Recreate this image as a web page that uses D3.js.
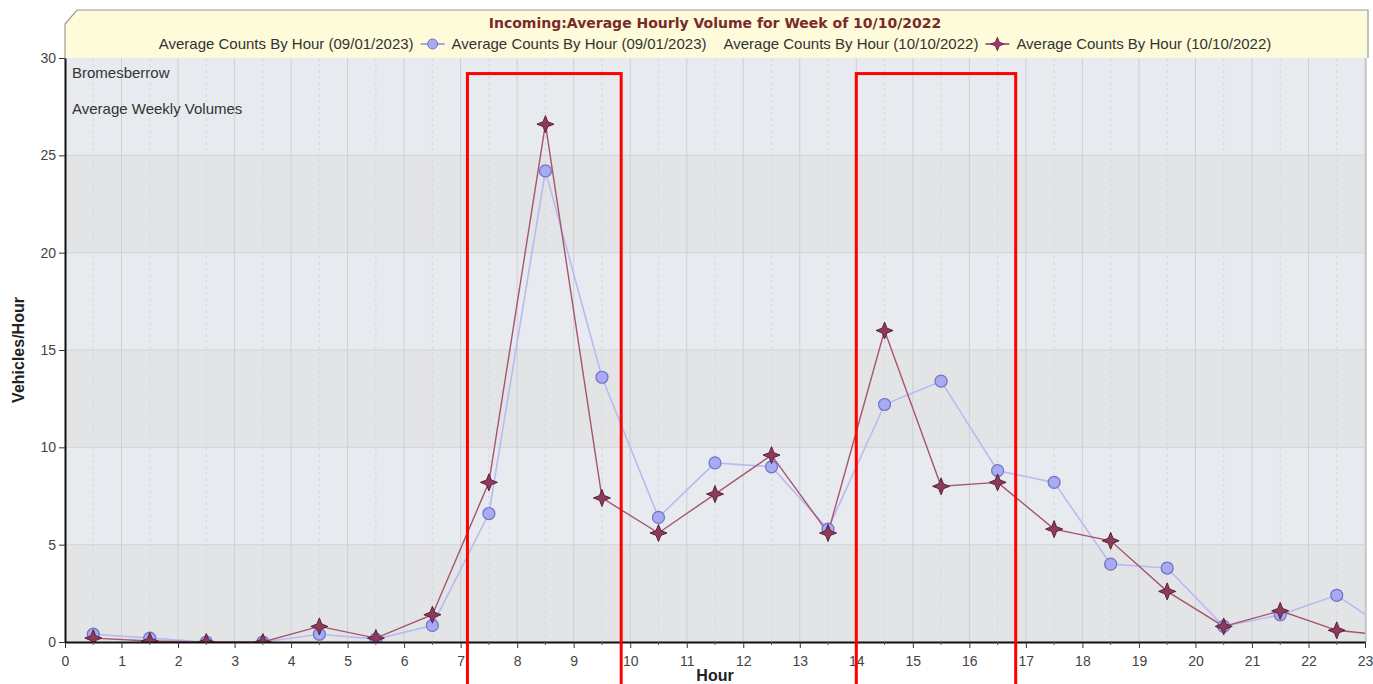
<!DOCTYPE html>
<html>
<head>
<meta charset="utf-8">
<script src="https://cdn.jsdelivr.net/npm/d3@7"></script>
<style>
  body { margin: 0; background: #fff; }
  text { font-family: "Liberation Sans", Arial, sans-serif; }
</style>
</head>
<body>
<svg id="chart" width="1373" height="684"></svg>
<script>
(function () {

    // hours (bin centres) - last point lies past the axis and gets clipped
    const hours = [0.5, 1.5, 2.5, 3.5, 4.5, 5.5, 6.5, 7.5, 8.5, 9.5, 10.5, 11.5,
                   12.5, 13.5, 14.5, 15.5, 16.5, 17.5, 18.5, 19.5, 20.5, 21.5, 22.5, 23.5];

    const counts2023 = [0.4, 0.2, 0.0, 0.0, 0.4, 0.15, 0.85, 6.6, 24.2, 13.6, 6.4, 9.2,
                        9.0, 5.8, 12.2, 13.4, 8.8, 8.2, 4.0, 3.8, 0.8, 1.4, 2.4, 0.45];

    const counts2022 = [0.2, 0.05, 0.0, 0.0, 0.8, 0.2, 1.4, 8.2, 26.6, 7.4, 5.6, 7.6,
                        9.6, 5.6, 16.0, 8.0, 8.2, 5.8, 5.2, 2.6, 0.8, 1.6, 0.6, 0.3];

    const xTicks = d3.range(0, 24);          // 0..23
    const yTicks = [0, 5, 10, 15, 20, 25, 30];

    // red highlight boxes (hour ranges)
    const boxStart = [7.12, 14.0];
    const boxEnd = [9.84, 16.82];
    const boxTop = 29.2;

    const title = "Incoming:Average Hourly Volume for Week of 10/10/2022";
    const label2023 = "Average Counts By Hour (09/01/2023)";
    const label2022 = "Average Counts By Hour (10/10/2022)";

    const svg = d3.select('#chart');

    const left = 65, right = 1365, top = 58, bottom = 642;

    const x = d3.scaleLinear().domain([0, 23]).range([left, right]);
    const y = d3.scaleLinear().domain([0, 30]).range([bottom, top]);

    // background bands, alternating every 5
    const bands = d3.range(0, 30, 5);
    svg.append('g').selectAll('rect')
        .data(bands)
        .enter()
        .append('rect')
        .attr('x', left)
        .attr('width', right - left)
        .attr('y', d => y(d + 5))
        .attr('height', d => y(d) - y(d + 5))
        .attr('fill', d => (d / 5) % 2 === 0 ? '#e3e4e6' : '#e7eaee');

    // grid lines
    const grid = svg.append('g');
    grid.selectAll('line.minor')
        .data(d3.range(0.5, 23, 1))
        .enter()
        .append('line')
        .attr('x1', d => x(d)).attr('x2', d => x(d))
        .attr('y1', top).attr('y2', bottom)
        .attr('stroke', '#d6d8dc')
        .attr('stroke-dasharray', '3,3');
    grid.selectAll('line.major')
        .data(xTicks.slice(1))
        .enter()
        .append('line')
        .attr('x1', d => x(d)).attr('x2', d => x(d))
        .attr('y1', top).attr('y2', bottom)
        .attr('stroke', '#cdcfd3');
    grid.selectAll('line.hz')
        .data(yTicks.slice(1, -1))
        .enter()
        .append('line')
        .attr('x1', left).attr('x2', right)
        .attr('y1', d => y(d)).attr('y2', d => y(d))
        .attr('stroke', '#d2d3d6');

    // right frame
    svg.append('line')
        .attr('x1', right + 1).attr('x2', right + 1)
        .attr('y1', top).attr('y2', bottom)
        .attr('stroke', '#a8a8a8');

    svg.append('clipPath').attr('id', 'plotclip')
        .append('rect')
        .attr('x', left).attr('y', top)
        .attr('width', right - left).attr('height', bottom - top);

    const plot = svg.append('g').attr('clip-path', 'url(#plotclip)');

    const line = d3.line()
        .x((d, i) => x(hours[i]))
        .y(d => y(d));

    plot.append('path')
        .datum(counts2023)
        .attr('d', line)
        .attr('fill', 'none')
        .attr('stroke', '#b9bbf0')
        .attr('stroke-width', 1.6);

    plot.append('path')
        .datum(counts2022)
        .attr('d', line)
        .attr('fill', 'none')
        .attr('stroke', '#a5556f')
        .attr('stroke-width', 1.4);

    function starPath() {
        const r = 8.5, k = 2.4;
        return `M0,${-r}L${k},${-k}L${r},0L${k},${k}L0,${r}L${-k},${k}L${-r},0L${-k},${-k}Z`;
    }

    plot.selectAll('circle.c2023')
        .data(counts2023)
        .enter()
        .append('circle')
        .attr('cx', (d, i) => x(hours[i]))
        .attr('cy', d => y(d))
        .attr('r', 6)
        .attr('fill', '#a8aaf2')
        .attr('stroke', '#6f72c8')
        .attr('stroke-width', 1.2);

    plot.selectAll('path.s2022')
        .data(counts2022)
        .enter()
        .append('path')
        .attr('d', starPath())
        .attr('transform', (d, i) => `translate(${x(hours[i])},${y(d)})`)
        .attr('fill', '#8e3a5c')
        .attr('stroke', '#5c2038')
        .attr('stroke-width', 1);

    // axes
    const xAxis = svg.append('g')
        .attr('transform', `translate(0,${bottom})`)
        .call(d3.axisBottom(x).tickValues(xTicks).tickFormat(d3.format('d')).tickSize(6).tickSizeOuter(0));
    svg.append('g')
        .attr('transform', `translate(0,${bottom})`)
        .selectAll('line')
        .data(d3.range(0.5, 23, 1))
        .enter()
        .append('line')
        .attr('x1', d => x(d)).attr('x2', d => x(d))
        .attr('y1', 0).attr('y2', 3)
        .attr('stroke', '#555');
    const yAxis = svg.append('g')
        .attr('transform', `translate(${left},0)`)
        .call(d3.axisLeft(y).tickValues(yTicks).tickSize(6).tickSizeOuter(0));

    [xAxis, yAxis].forEach(g => {
        g.select('.domain').attr('stroke', '#111').attr('stroke-width', 2);
        g.selectAll('.tick line').attr('stroke', '#333');
        g.selectAll('.tick text')
            .attr('fill', '#444')
            .style('font-size', '14px')
            .style('font-family', '"Liberation Sans", Arial, sans-serif');
    });
    xAxis.selectAll('.tick text').attr('dy', '1.05em');

    svg.append('text')
        .attr('x', 715).attr('y', 681)
        .attr('text-anchor', 'middle')
        .style('font-weight', 'bold')
        .style('font-size', '16px')
        .attr('fill', '#222')
        .text('Hour');

    svg.append('text')
        .attr('transform', 'translate(24,350) rotate(-90)')
        .attr('text-anchor', 'middle')
        .style('font-weight', 'bold')
        .style('font-size', '16px')
        .attr('fill', '#222')
        .text('Vehicles/Hour');

    // notes inside plot
    svg.append('text').attr('x', 72).attr('y', 78)
        .style('font-size', '15px').attr('fill', '#333').text('Bromesberrow');
    svg.append('text').attr('x', 72).attr('y', 114)
        .style('font-size', '15px').attr('fill', '#333').text('Average Weekly Volumes');

    // legend / title box with bevelled corner
    const lgTop = 10, lgBottom = top, lgLeft = left, lgRight = 1368;
    svg.append('path')
        .attr('d', `M${lgLeft},${lgBottom}L${lgLeft},${lgTop + 14}L${lgLeft + 12},${lgTop}L${lgRight},${lgTop}L${lgRight},${lgBottom}`)
        .attr('fill', '#fdfbd9')
        .attr('stroke', '#9a9a9a')
        .attr('stroke-width', 1.2);

    svg.append('text')
        .attr('x', 715).attr('y', 28)
        .attr('text-anchor', 'middle')
        .style('font-family', '"DejaVu Sans", Verdana, sans-serif')
        .style('font-weight', 'bold')
        .style('font-size', '14px')
        .attr('fill', '#7a2a2a')
        .text(title);

    const legend = svg.append('g');
    const items = [
        { text: label2023 }, { sym: 'circle' }, { text: label2023 }, { gap: 10 },
        { text: label2022 }, { sym: 'star' }, { text: label2022 }
    ];
    let cx = 0;
    const ly = 49;
    items.forEach(it => {
        if (it.text) {
            const t = legend.append('text')
                .attr('x', cx).attr('y', ly)
                .style('font-size', '15px')
                .attr('fill', '#333')
                .text(it.text);
            cx += t.node().getComputedTextLength() + 7;
        } else if (it.sym) {
            legend.append('line')
                .attr('x1', cx).attr('x2', cx + 24)
                .attr('y1', ly - 5).attr('y2', ly - 5)
                .attr('stroke', it.sym === 'circle' ? '#8a8cd8' : '#8e3a5c')
                .attr('stroke-width', 1.5);
            if (it.sym === 'circle') {
                legend.append('circle')
                    .attr('cx', cx + 12).attr('cy', ly - 5).attr('r', 5)
                    .attr('fill', '#a8aaf2').attr('stroke', '#6f72c8');
            } else {
                legend.append('path')
                    .attr('d', starPath())
                    .attr('transform', `translate(${cx + 12},${ly - 5}) scale(0.8)`)
                    .attr('fill', '#9a3a6a').attr('stroke', '#6a2048');
            }
            cx += 31;
        } else {
            cx += it.gap;
        }
    });
    legend.attr('transform', `translate(${715 - (cx - 7) / 2},0)`);

    // red highlight boxes
    svg.append('g').selectAll('rect')
        .data(boxStart)
        .enter()
        .append('rect')
        .attr('x', d => x(d))
        .attr('y', y(boxTop))
        .attr('width', (d, i) => x(boxEnd[i]) - x(d))
        .attr('height', 700 - y(boxTop))
        .attr('fill', 'none')
        .attr('stroke', '#ff0000')
        .attr('stroke-width', 3);

})();
</script>
</body>
</html>
